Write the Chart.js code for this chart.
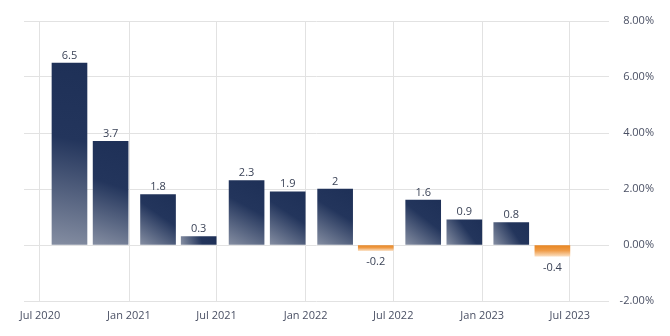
<!DOCTYPE html>
<html>
<head>
<meta charset="utf-8">
<script src="https://cdn.jsdelivr.net/npm/chart.js@4/dist/chart.umd.min.js"></script>
<style>
  html, body { margin: 0; padding: 0; background: #fff; }
  #wrap { position: relative; width: 670px; height: 336px; }
</style>
</head>
<body>
<div id="wrap"><canvas id="growthChart"></canvas></div>
<script>
// quarterly growth, plotted on a date axis
const periodDates = [
  "2020-08-31", "2020-11-24", "2021-03-02", "2021-05-25",
  "2021-09-01", "2021-11-25", "2022-03-03", "2022-05-26",
  "2022-09-01", "2022-11-25", "2023-03-02", "2023-05-26",
];
const growthValues = [6.5, 3.7, 1.8, 0.3, 2.3, 1.9, 2, -0.2, 1.6, 0.9, 0.8, -0.4];

const tickDates = [
  "2020-07-01", "2021-01-01", "2021-07-01", "2022-01-01",
  "2022-07-01", "2023-01-01", "2023-07-01",
];
const tickLabels = ["Jul 2020", "Jan 2021", "Jul 2021", "Jan 2022", "Jul 2022", "Jan 2023", "Jul 2023"];

const yTicks = [-2, 0, 2, 4, 6, 8];

const FONT = "'Open Sans', 'Noto Sans', sans-serif";
const BAR_W = 35;

const ts = (d) => Date.parse(d);

function barFill(ctx) {
  const chart = ctx.chart;
  const xs = chart.scales.x;
  const ys = chart.scales.y;
  if (!chart.chartArea || !xs || !ys || ctx.type !== "data") return "#1f3158";
  const raw = ctx.raw;
  const cx = xs.getPixelForValue(raw.x);
  const top = ys.getPixelForValue(raw.y);
  const base = ys.getPixelForValue(0);
  const c = chart.ctx;
  if (raw.y >= 0) {
    const g = c.createLinearGradient(cx - BAR_W / 2, base, cx + BAR_W / 2, top);
    g.addColorStop(0, "#858ea2");
    g.addColorStop(0.58, "#23355c");
    g.addColorStop(1, "#1e3057");
    return g;
  }
  const g = c.createLinearGradient(0, base, 0, top);
  g.addColorStop(0, "#e8841f");
  g.addColorStop(0.5, "#ef9c48");
  g.addColorStop(1, "#fadcbc");
  return g;
}

// value captions above / below every bar
const valueLabels = {
  id: "valueLabels",
  afterDatasetsDraw(chart) {
    const ctx = chart.ctx;
    const meta = chart.getDatasetMeta(0);
    ctx.save();
    ctx.font = "11px " + FONT;
    ctx.fillStyle = "#3b4357";
    ctx.textAlign = "center";
    meta.data.forEach((bar, i) => {
      const v = growthValues[i];
      if (v >= 0) {
        ctx.textBaseline = "bottom";
        ctx.fillText(String(v), bar.x, bar.y - 2);
      } else {
        ctx.textBaseline = "top";
        ctx.fillText(String(v), bar.x, bar.y + 6);
      }
    });
    ctx.restore();
  },
};

new Chart(document.getElementById("growthChart"), {
  type: "bar",
  data: {
    datasets: [
      {
        data: periodDates.map((d, i) => ({ x: ts(d), y: growthValues[i] })),
        backgroundColor: barFill,
        borderWidth: 0,
        barThickness: BAR_W,
      },
    ],
  },
  options: {
    responsive: true,
    maintainAspectRatio: false,
    animation: false,
    layout: { padding: { left: 24, right: 16, top: 21, bottom: 0 } },
    plugins: {
      legend: { display: false },
      tooltip: { enabled: false },
    },
    scales: {
      x: {
        type: "linear",
        offset: false,
        min: Date.UTC(2020, 4, 29),
        max: Date.UTC(2023, 8, 20),
        afterBuildTicks: (scale) => {
          scale.ticks = tickDates.map((d) => ({ value: ts(d) }));
        },
        afterFit: (scale) => {
          scale.height = 35;
        },
        grid: { color: "#e2e2e2", drawTicks: false, offset: false },
        border: { display: false },
        ticks: {
          autoSkip: false,
          maxRotation: 0,
          padding: 8,
          color: "#4a5064",
          font: { family: FONT, size: 11 },
          callback: (value, index) => tickLabels[index],
        },
      },
      y: {
        position: "right",
        min: -2,
        max: 8,
        afterBuildTicks: (scale) => {
          scale.ticks = yTicks.map((v) => ({ value: v }));
        },
        afterFit: (scale) => {
          scale.width = 45;
        },
        grid: { color: "#e2e2e2", drawTicks: false },
        border: { display: false },
        ticks: {
          padding: 10,
          crossAlign: "far",
          color: "#4a5064",
          font: { family: FONT, size: 11 },
          callback: (v) => v.toFixed(2) + "%",
        },
      },
    },
  },
  plugins: [valueLabels],
});
</script>
</body>
</html>
